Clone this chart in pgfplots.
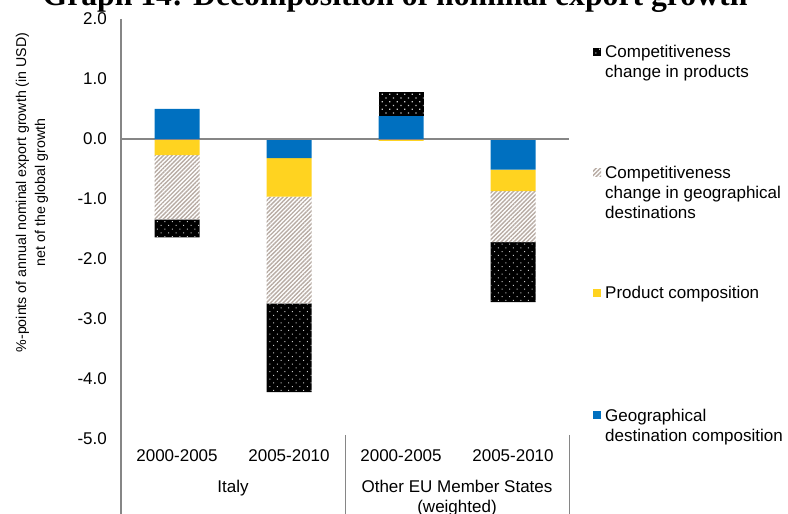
\documentclass[border=0pt]{standalone}
\usepackage{fontspec}
\setmainfont{Liberation Sans}
\newfontfamily\titlefont{Liberation Serif}
\usepackage{pgfplots}
\usepackage{pgfplotstable}
\pgfplotsset{compat=1.18}
\usetikzlibrary{patterns.meta}
\definecolor{geoblue}{RGB}{0,112,192}
\definecolor{prodyellow}{RGB}{255,211,32}
\definecolor{hatchc}{RGB}{184,172,164}
\definecolor{axgray}{RGB}{134,134,134}
\newcommand\fsz{\fontsize{17}{20}\selectfont}

\pgfplotstableread{
x geo prod geoc prodc
0 0 -0.27 -1.07 -0.30
1 -0.32 -0.64 -1.78 -1.48
2 0 -0.03 0 0
3 -0.51 -0.36 -0.85 -1.00
}\negdata
\pgfplotstableread{
x geo prodc
0 0.50 0
1 0 0
2 0.38 0.40
3 0 0
}\posdata

\tikzset{
  geostyle/.style={fill=geoblue, draw=none},
  prodstyle/.style={fill=prodyellow, draw=none},
  geocstyle/.style={fill=white, draw=none, postaction={pattern={Lines[angle=45,distance=3pt,line width=1.4pt]}, pattern color=hatchc}},
  prodcstyle/.style={fill=black, draw=none, postaction={pattern={Dots[angle=45,distance=5.3pt,radius=0.75pt]}, pattern color=white!80!black}},
  legtext/.style={anchor=base west, inner sep=0pt, font=\fsz},
}
\pgfplotsset{
  base/.style={width=448pt,height=420pt,scale only axis,
    xmin=-0.5,xmax=3.5,ymin=-5,ymax=2,
    ybar stacked, bar width=45pt, clip=false},
}

\begin{document}
\begin{tikzpicture}
\begin{axis}[base,
  axis line style={draw=none}, major tick length=0pt,
  xtick={0,1,2,3},
  xticklabels={2000-2005,2005-2010,2000-2005,2005-2010},
  xticklabel style={anchor=center, yshift=-17pt, font=\fsz},
  ytick={-5,-4,...,2},
  yticklabel={\pgfmathprintnumber[fixed,fixed zerofill,precision=1,assume math mode=true]{\tick}},
  yticklabel style={anchor=east, inner sep=0pt, xshift=-14pt, font=\fsz},
  ylabel={\%-points of annual nominal export growth (in USD)\\net of the global growth},
  ylabel style={at={([xshift=-89pt]axis description cs:0,0.587)}, anchor=center, align=center, font=\fontsize{14.2}{19}\selectfont},
]
\addplot[geostyle] table[x=x,y=geo]{\negdata};
\addplot[prodstyle] table[x=x,y=prod]{\negdata};
\addplot[geocstyle] table[x=x,y=geoc]{\negdata};
\addplot[prodcstyle] table[x=x,y=prodc]{\negdata};

\coordinate (BL) at (rel axis cs:0,0);
\coordinate (TR) at (rel axis cs:1,1);
% legend
\path[prodcstyle] ([xshift=24pt,yshift=-29pt]rel axis cs:1,1) rectangle ([xshift=32pt,yshift=-37pt]rel axis cs:1,1);
\node[legtext] at ([xshift=36pt,yshift=-39pt]rel axis cs:1,1) {Competitiveness};
\node[legtext] at ([xshift=36pt,yshift=-59pt]rel axis cs:1,1) {change in products};
\path[geocstyle] ([xshift=24pt,yshift=-150pt]rel axis cs:1,1) rectangle ([xshift=32pt,yshift=-158pt]rel axis cs:1,1);
\node[legtext] at ([xshift=36pt,yshift=-160pt]rel axis cs:1,1) {Competitiveness};
\node[legtext] at ([xshift=36pt,yshift=-180pt]rel axis cs:1,1) {change in geographical};
\node[legtext] at ([xshift=36pt,yshift=-200pt]rel axis cs:1,1) {destinations};
\path[prodstyle] ([xshift=24pt,yshift=-270pt]rel axis cs:1,1) rectangle ([xshift=32pt,yshift=-278pt]rel axis cs:1,1);
\node[legtext] at ([xshift=36pt,yshift=-280pt]rel axis cs:1,1) {Product composition};
\path[geostyle] ([xshift=24pt,yshift=-392pt]rel axis cs:1,1) rectangle ([xshift=32pt,yshift=-400pt]rel axis cs:1,1);
\node[legtext] at ([xshift=36pt,yshift=-402pt]rel axis cs:1,1) {Geographical};
\node[legtext] at ([xshift=36pt,yshift=-422pt]rel axis cs:1,1) {destination composition};

\node[anchor=base, font={\titlefont\bfseries\fontsize{31.7}{36}\selectfont}] at ([xshift=274pt,yshift=13pt]rel axis cs:0,1) {Graph 14: Decomposition of nominal export growth};
\node[anchor=north, inner sep=0pt, align=center, font=\fsz] at ([yshift=-40.5pt]axis cs:0.5,-5) {Italy};
\node[anchor=north, inner sep=0pt, align=center, font=\fsz] at ([yshift=-40.5pt]axis cs:2.5,-5) {Other EU Member States\\(weighted)};
\draw[axgray, line width=1.5pt] (rel axis cs:0,1) -- ([yshift=-80pt]rel axis cs:0,0);
\draw[axgray, line width=1pt] ([yshift=4pt]axis cs:1.5,-5) -- ([yshift=-80pt]axis cs:1.5,-5);
\draw[axgray, line width=1pt] ([yshift=4pt]axis cs:3.5,-5) -- ([yshift=-80pt]axis cs:3.5,-5);
\end{axis}
\begin{axis}[base, hide axis]
\addplot[geostyle] table[x=x,y=geo]{\posdata};
\addplot[prodcstyle] table[x=x,y=prodc]{\posdata};
\draw[axgray, line width=1.5pt] (axis cs:-0.5,0) -- (axis cs:3.5,0);
\end{axis}
\pgfresetboundingbox
\useasboundingbox ([xshift=-121pt,yshift=-75pt]BL) rectangle ([xshift=219pt,yshift=19pt]TR);
\end{tikzpicture}
\end{document}
